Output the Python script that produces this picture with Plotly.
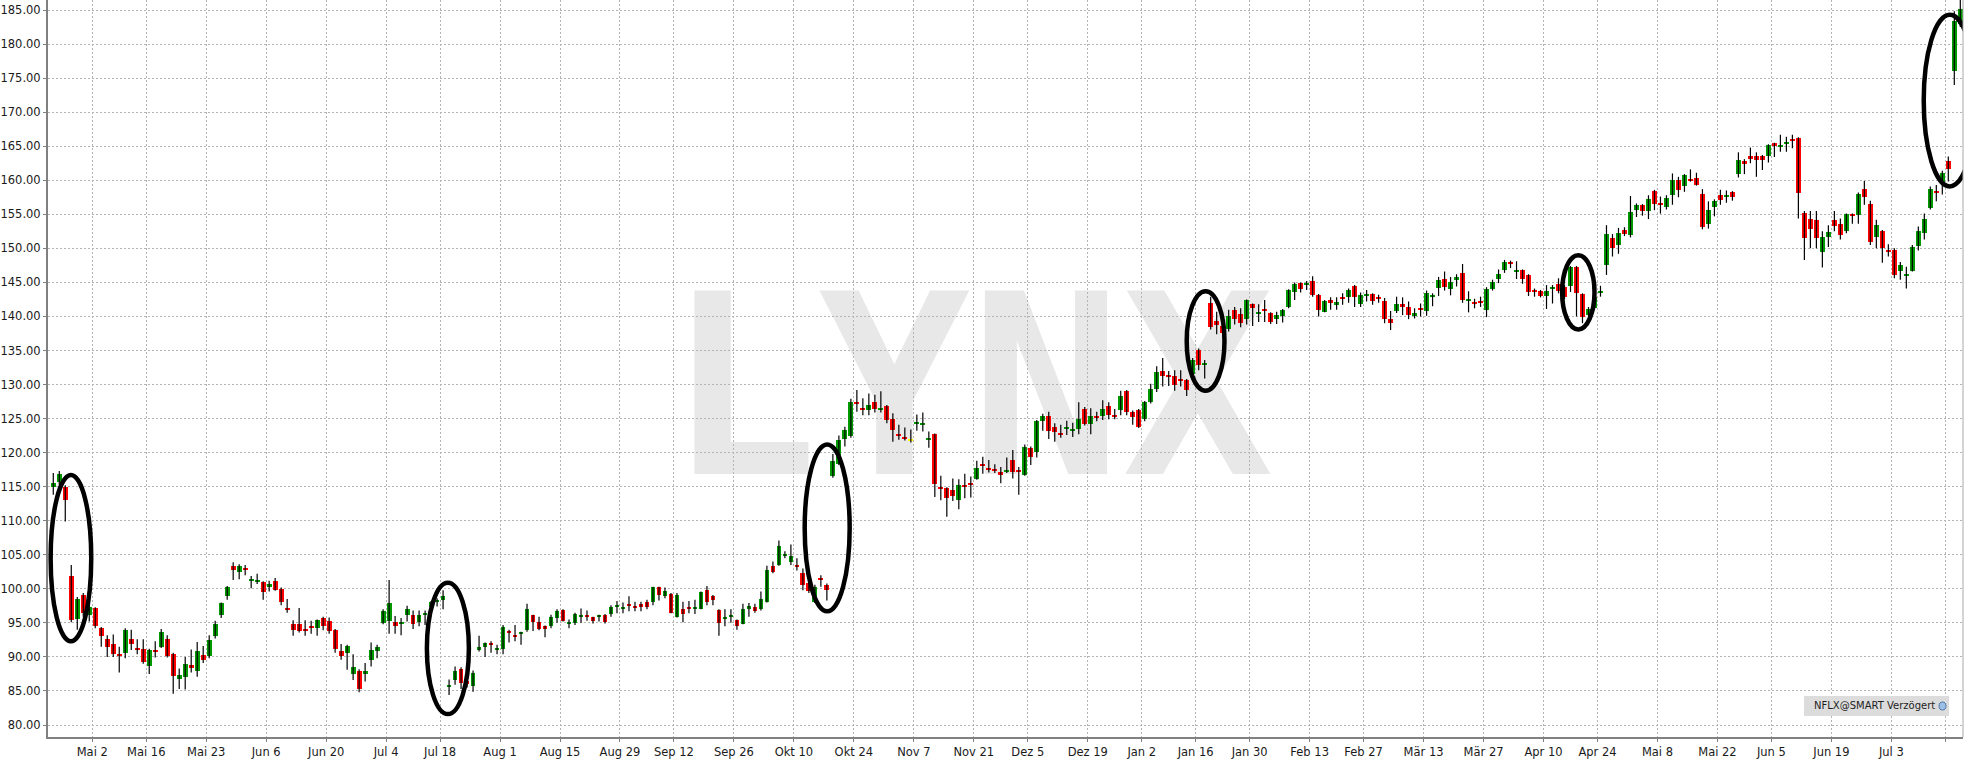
import plotly.graph_objects as go

# ---------------- data ----------------
open_ = [
    115.0, 115.7, 114.9, 101.9, 95.5, 99.1, 96.1, 97.2, 94.2, 92.6,
    91.9, 90.5, 90.6, 92.6, 91.3, 91.2, 88.6, 91.0, 91.5, 92.7,
    90.4, 86.8, 87.0, 88.8, 88.0, 90.3, 90.2, 93.0, 96.1, 99.0,
    103.3, 102.5, 103.0, 101.2, 101.0, 101.0, 100.3, 101.2, 100.0, 97.2,
    94.8, 94.9, 94.1, 94.5, 94.3, 95.7, 95.3, 94.0, 90.8, 90.6,
    87.5, 88.0, 87.5, 89.6, 90.9, 95.0, 95.3, 95.1, 94.8, 96.1,
    96.2, 95.2, 96.2, 97.4, 98.1, 98.4, 85.6, 86.6, 88.3, 86.5,
    85.8, 91.0, 91.5, 92.0, 91.0, 91.2, 93.8, 93.2, 93.3, 93.9,
    96.1, 95.2, 94.5, 94.6, 95.7, 96.9, 94.9, 95.0, 95.9, 96.2,
    95.8, 95.8, 96.2, 96.3, 97.3, 97.1, 97.8, 97.5, 97.8, 98.0,
    98.0, 100.2, 99.0, 99.2, 95.9, 97.1, 97.3, 97.1, 97.1, 99.9,
    98.9, 96.9, 95.6, 95.8, 95.4, 94.9, 97.1, 97.4, 97.0, 98.1,
    103.4, 103.5, 104.8, 104.0, 103.5, 102.3, 100.8, 98.1, 101.6, 100.5,
    116.6, 118.4, 122.0, 122.4, 127.5, 126.6, 126.3, 127.5, 126.2, 126.9,
    124.9, 122.7, 122.3, 121.9, 124.3, 124.1, 121.8, 122.7, 115.0, 114.8,
    114.5, 113.0, 115.2, 115.5, 116.2, 118.3, 117.8, 117.6, 117.1, 117.2,
    118.9, 117.5, 116.7, 120.7, 120.1, 124.6, 125.4, 123.8, 122.9, 123.5,
    123.2, 123.5, 126.4, 124.2, 125.4, 125.4, 126.9, 125.5, 126.3, 129.1,
    126.0, 126.3, 124.9, 127.5, 129.3, 132.0, 131.4, 131.3, 130.8, 130.7,
    131.6, 135.1, 132.9, 142.0, 139.3, 138.6, 138.1, 141.0, 140.4, 139.6,
    141.8, 140.4, 141.1, 140.5, 139.6, 140.0, 141.4, 143.6, 144.9, 144.6,
    145.2, 143.2, 140.7, 142.4, 141.7, 142.9, 142.9, 144.5, 141.9, 143.0,
    143.3, 142.9, 142.2, 139.6, 140.8, 141.9, 141.4, 140.1, 141.2, 140.8,
    142.9, 144.2, 145.5, 144.0, 145.4, 146.4, 142.3, 142.1, 142.3, 140.9,
    144.0, 145.5, 146.8, 148.0, 146.6, 146.8, 146.1, 143.9, 143.8, 143.0,
    144.1, 144.8, 144.3, 144.4, 147.3, 143.3, 140.2, 141.3, 143.5, 147.5,
    151.5, 150.5, 152.7, 151.9, 155.6, 156.3, 155.5, 158.4, 156.7, 156.1,
    157.8, 160.0, 159.1, 160.2, 160.4, 158.0, 153.6, 156.0, 157.8, 157.5,
    158.3, 160.9, 162.8, 163.6, 163.6, 163.5, 163.5, 165.4, 165.0, 165.3,
    166.0, 166.2, 155.2, 154.3, 154.2, 149.4, 151.7, 154.2, 153.6, 152.5,
    155.0, 154.9, 158.7, 156.5, 151.6, 152.6, 149.7, 149.8, 146.7, 146.0,
    146.7, 150.4, 152.3, 155.9, 158.4, 159.7, 162.8, 176.1, 183.0,
]
high = [
    117.0, 117.3, 115.2, 103.5, 98.8, 99.4, 97.6, 97.3, 94.4, 93.2,
    93.3, 91.5, 94.2, 94.0, 92.6, 92.6, 91.2, 92.3, 94.1, 93.2,
    90.6, 88.3, 90.0, 91.1, 92.2, 91.6, 93.2, 95.3, 98.0, 100.4,
    103.9, 103.6, 103.5, 101.9, 102.2, 101.1, 101.2, 101.6, 100.2, 98.5,
    95.4, 97.2, 95.4, 95.3, 95.5, 95.9, 95.8, 94.1, 91.9, 91.8,
    90.4, 88.2, 89.1, 92.1, 91.8, 97.0, 101.3, 96.0, 95.7, 97.5,
    96.8, 96.8, 96.8, 98.2, 98.6, 99.8, 86.7, 88.6, 88.5, 87.0,
    88.0, 93.1, 92.1, 92.3, 91.8, 94.7, 94.0, 94.7, 93.7, 97.8,
    96.2, 95.9, 94.6, 96.2, 97.0, 97.0, 95.5, 96.5, 97.1, 96.8,
    95.9, 96.2, 96.3, 97.6, 98.2, 98.0, 98.9, 98.1, 98.1, 98.4,
    100.3, 100.3, 100.2, 99.4, 99.4, 98.1, 98.2, 98.4, 99.6, 100.4,
    99.1, 97.0, 97.0, 97.0, 95.5, 97.8, 97.9, 97.8, 99.6, 103.4,
    104.0, 107.1, 105.5, 106.5, 104.5, 103.0, 101.1, 100.6, 102.0, 100.8,
    119.8, 122.5, 123.8, 127.9, 129.2, 128.0, 128.7, 128.5, 129.0, 127.0,
    125.8, 124.1, 123.7, 123.4, 125.6, 125.9, 123.1, 122.8, 116.6, 114.9,
    116.2, 116.1, 116.9, 116.5, 118.8, 119.4, 118.9, 118.3, 117.9, 119.3,
    120.4, 117.9, 121.2, 120.9, 124.8, 125.7, 126.0, 124.3, 124.1, 124.7,
    124.4, 127.4, 126.7, 126.5, 126.0, 127.7, 127.4, 126.4, 129.1, 129.2,
    126.2, 126.4, 127.6, 130.1, 132.7, 133.9, 132.0, 132.1, 132.1, 130.8,
    133.9, 135.3, 133.6, 142.9, 140.7, 139.5, 141.0, 141.4, 141.2, 142.5,
    141.9, 141.8, 142.4, 140.6, 140.7, 141.1, 144.0, 145.0, 145.0, 145.2,
    145.9, 143.3, 142.4, 142.8, 142.8, 143.4, 144.1, 144.6, 143.5, 143.9,
    143.4, 143.2, 142.7, 140.8, 142.9, 142.8, 142.2, 141.2, 141.9, 143.8,
    143.4, 145.8, 146.6, 145.8, 146.2, 147.7, 143.7, 142.6, 142.9, 144.3,
    145.4, 146.9, 148.3, 148.2, 148.1, 146.9, 146.2, 144.1, 143.9, 144.6,
    144.6, 145.6, 144.6, 147.4, 147.4, 143.4, 141.4, 143.1, 144.5, 153.4,
    152.1, 153.0, 153.1, 157.7, 156.6, 156.5, 157.8, 158.6, 157.6, 157.8,
    161.0, 160.5, 160.9, 161.6, 161.1, 158.7, 156.9, 157.2, 158.6, 158.5,
    158.4, 164.1, 163.1, 164.8, 164.1, 163.7, 165.3, 165.5, 166.7, 166.4,
    166.7, 166.3, 155.5, 155.5, 155.5, 152.5, 153.4, 155.5, 154.4, 155.1,
    155.1, 158.2, 159.9, 157.0, 154.2, 152.7, 150.6, 150.0, 148.0, 147.3,
    150.5, 153.2, 155.1, 159.1, 159.3, 161.4, 163.5, 184.8, 186.5,
]
low = [
    113.8, 115.3, 109.9, 95.1, 94.0, 95.9, 95.2, 94.2, 91.5, 90.0,
    90.0, 87.7, 89.8, 91.0, 90.4, 89.0, 87.5, 89.9, 91.3, 89.9,
    84.6, 85.3, 85.2, 87.7, 87.1, 89.1, 89.8, 92.7, 95.7, 98.4,
    101.3, 101.4, 102.0, 100.1, 100.7, 98.4, 99.6, 99.7, 97.6, 96.5,
    93.1, 93.6, 93.1, 93.4, 93.1, 93.9, 93.4, 90.6, 89.6, 88.1,
    86.6, 84.8, 86.4, 88.6, 89.8, 94.8, 93.4, 93.4, 93.2, 95.2,
    94.1, 94.5, 94.7, 96.2, 97.4, 97.0, 84.4, 85.9, 85.3, 85.5,
    84.9, 90.8, 90.0, 90.6, 90.4, 90.4, 92.1, 92.3, 91.8, 93.7,
    93.8, 93.9, 92.9, 94.2, 95.0, 95.2, 94.2, 94.7, 95.0, 95.3,
    94.9, 95.2, 94.9, 95.9, 96.4, 96.4, 96.7, 96.7, 96.7, 97.0,
    97.6, 98.3, 98.6, 96.4, 95.8, 95.1, 96.4, 96.3, 97.0, 97.6,
    97.6, 93.1, 94.5, 95.0, 94.0, 94.8, 95.9, 96.5, 96.8, 98.0,
    102.3, 103.4, 104.5, 103.5, 102.7, 99.8, 99.4, 97.9, 100.3, 98.3,
    116.3, 118.2, 120.9, 122.2, 126.0, 125.5, 125.5, 125.9, 125.9, 124.3,
    121.6, 121.9, 121.8, 121.5, 123.2, 123.1, 120.7, 113.5, 113.0, 110.6,
    112.9, 111.7, 113.3, 113.4, 116.0, 116.9, 117.1, 117.0, 115.5, 117.0,
    116.2, 113.8, 116.6, 118.2, 119.3, 123.2, 122.0, 121.6, 122.2, 122.6,
    122.3, 122.7, 124.0, 122.7, 124.6, 124.8, 124.9, 124.9, 125.5, 125.5,
    124.1, 123.6, 124.6, 127.2, 128.9, 129.7, 129.8, 129.1, 129.7, 128.3,
    131.2, 132.1, 130.9, 138.1, 137.4, 137.2, 137.8, 138.8, 138.4, 138.8,
    138.6, 139.2, 139.2, 138.9, 138.9, 139.1, 141.2, 142.4, 143.5, 143.9,
    142.9, 140.0, 140.6, 141.0, 141.0, 141.7, 142.0, 141.4, 141.4, 142.2,
    141.7, 142.0, 139.0, 138.0, 140.5, 140.2, 139.6, 139.7, 140.0, 140.1,
    141.5, 143.0, 143.8, 143.1, 144.4, 142.0, 140.6, 141.2, 141.4, 139.9,
    143.8, 144.9, 146.4, 147.1, 145.5, 144.8, 143.0, 142.9, 142.8, 141.1,
    141.9, 143.4, 142.5, 143.6, 140.0, 139.0, 140.0, 140.9, 142.9, 146.1,
    148.8, 149.2, 151.8, 151.6, 154.6, 154.8, 154.3, 155.6, 155.1, 155.7,
    156.4, 157.5, 158.3, 159.8, 159.2, 152.8, 152.9, 154.7, 156.4, 156.7,
    157.0, 160.4, 160.9, 162.5, 160.5, 161.5, 162.6, 163.4, 164.2, 164.2,
    164.7, 154.4, 148.3, 150.0, 150.0, 147.2, 150.2, 152.5, 151.3, 152.2,
    153.6, 153.6, 156.4, 150.5, 150.0, 147.9, 148.8, 145.6, 145.4, 144.1,
    146.6, 149.7, 151.3, 155.7, 156.9, 157.9, 159.8, 174.0, 182.5,
]
close = [
    115.6, 116.9, 113.0, 95.4, 98.5, 96.4, 97.3, 94.6, 93.1, 91.4,
    90.5, 90.2, 94.0, 91.9, 91.0, 89.3, 91.0, 90.7, 93.7, 90.2,
    87.2, 87.4, 89.0, 88.4, 90.8, 89.6, 92.5, 94.8, 97.9, 100.3,
    102.8, 103.4, 102.7, 101.5, 101.3, 99.6, 100.7, 99.9, 98.0, 96.9,
    93.9, 93.8, 93.8, 94.2, 95.4, 94.5, 93.8, 91.1, 90.1, 91.6,
    88.5, 85.3, 88.0, 91.0, 91.5, 96.8, 97.9, 94.6, 95.2, 97.0,
    94.8, 96.1, 96.5, 98.0, 98.4, 98.9, 85.9, 88.0, 86.1, 86.0,
    87.6, 91.4, 92.0, 91.7, 91.3, 94.4, 93.6, 93.0, 93.6, 97.0,
    95.2, 94.1, 94.1, 95.9, 96.7, 95.3, 95.2, 96.3, 96.2, 95.9,
    95.3, 96.1, 95.1, 97.4, 97.6, 97.4, 97.5, 97.2, 97.4, 97.4,
    100.2, 99.1, 99.7, 96.5, 99.1, 96.3, 97.0, 97.4, 99.5, 98.1,
    98.3, 95.0, 95.8, 96.1, 94.6, 97.0, 97.5, 96.8, 98.5, 102.7,
    102.4, 106.3, 105.1, 104.8, 103.3, 100.6, 99.7, 100.3, 101.3, 99.9,
    118.8, 121.9, 123.3, 127.5, 127.2, 126.3, 127.0, 126.4, 126.6, 124.8,
    123.3, 122.4, 122.0, 121.9, 124.5, 124.4, 122.2, 115.4, 114.7, 113.4,
    113.7, 115.3, 114.9, 115.3, 117.8, 118.0, 117.5, 117.3, 116.7, 117.5,
    117.1, 117.2, 120.9, 119.3, 124.6, 125.4, 123.2, 123.0, 122.6, 123.8,
    123.5, 124.9, 124.2, 125.4, 125.1, 126.4, 125.6, 125.2, 128.3, 125.9,
    125.3, 123.8, 127.4, 129.3, 131.8, 131.2, 131.1, 129.9, 130.5, 129.2,
    133.6, 132.9, 133.1, 138.4, 138.7, 137.5, 140.1, 139.6, 139.0, 142.4,
    141.3, 140.7, 140.8, 139.2, 140.2, 141.0, 143.9, 144.8, 144.1, 144.8,
    143.2, 140.9, 142.3, 142.0, 142.1, 142.6, 143.9, 142.8, 143.1, 143.3,
    142.2, 142.6, 139.6, 139.1, 141.8, 141.4, 140.2, 140.5, 140.9, 143.4,
    143.2, 145.3, 144.3, 145.1, 145.8, 142.4, 142.6, 141.8, 142.0, 144.0,
    145.1, 146.3, 148.0, 147.7, 146.8, 145.5, 143.6, 143.6, 143.0, 143.8,
    144.3, 143.8, 142.9, 147.3, 143.4, 139.9, 141.1, 142.8, 143.7, 152.1,
    150.1, 152.2, 152.1, 155.3, 156.4, 155.5, 157.2, 156.5, 156.4, 157.4,
    160.1, 158.5, 160.8, 159.9, 159.3, 153.2, 155.6, 157.0, 157.1, 157.8,
    157.6, 163.0, 162.4, 163.1, 163.0, 163.0, 165.2, 165.0, 165.2, 165.6,
    165.8, 158.1, 151.5, 152.8, 151.5, 151.6, 152.4, 153.3, 152.0, 155.0,
    154.8, 158.0, 157.5, 151.0, 153.4, 150.0, 149.4, 146.1, 147.5, 146.2,
    150.2, 152.6, 154.3, 158.7, 158.2, 161.1, 161.6, 183.4, 185.2,
]

# x-axis: bar index of each labelled session and its label
tick_bars = [7, 16, 26, 36, 46, 56, 65, 75, 85, 95, 104, 114, 124, 134, 144,
             154, 163, 173, 182, 191, 200, 210, 219, 229, 239, 249, 258, 268,
             278, 287, 297, 307, 316]
tick_labels = ["Mai 2", "Mai 16", "Mai 23", "Jun 6", "Jun 20", "Jul 4", "Jul 18",
               "Aug 1", "Aug 15", "Aug 29", "Sep 12", "Sep 26", "Okt 10", "Okt 24",
               "Nov 7", "Nov 21", "Dez 5", "Dez 19", "Jan 2", "Jan 16", "Jan 30",
               "Feb 13", "Feb 27", "Mär 13", "Mär 27", "Apr 10", "Apr 24", "Mai 8",
               "Mai 22", "Jun 5", "Jun 19", "Jul 3", ""]
y_ticks = [80, 85, 90, 95, 100, 105, 110, 115, 120, 125, 130, 135, 140, 145,
           150, 155, 160, 165, 170, 175, 180, 185]

# hand-drawn highlight ellipses: (bar from, bar to, price low, price high)
highlights = [
    (-0.44, 6.33, 92.3, 116.7),
    (62.3, 69.3, 81.6, 100.9),
    (125.3, 132.8, 96.7, 121.2),
    (189.0, 195.3, 129.1, 143.7),
    (251.6, 257.0, 138.1, 149.0),
    (311.9, 320.6, 159.1, 184.3),
]
watermark = "LYNX"
watermark_x = 152.9
watermark_y = 132.3
info_label = "NFLX@SMART Verzögert"

# ---------------- build figure ----------------
GREEN, RED, YELLOW = "#009a00", "#ff0000", "#ffff00"
n = len(close)
idx = list(range(n))

wick_x, wick_y = [], []
for i in idx:
    wick_x += [i, i, None]
    wick_y += [low[i], high[i], None]

MIN_BODY = 0.3
bases, heights, colors = [], [], []
for i in idx:
    o, c = open_[i], close[i]
    h = abs(c - o)
    hh = max(h, MIN_BODY)
    bases.append(min(o, c) - (hh - h) / 2)
    heights.append(hh)
    colors.append(GREEN if c > o else (RED if c < o else YELLOW))

fig = go.Figure()
fig.add_trace(go.Scatter(x=wick_x, y=wick_y, mode="lines",
                         line=dict(color="#000000", width=1.2),
                         hoverinfo="skip", showlegend=False))
fig.add_trace(go.Bar(x=idx, y=heights, base=bases, width=0.8,
                     marker=dict(color=colors, line=dict(width=0)),
                     showlegend=False,
                     customdata=list(zip(open_, high, low, close)),
                     hovertemplate="O %{customdata[0]}<br>H %{customdata[1]}"
                                   "<br>L %{customdata[2]}<br>C %{customdata[3]}<extra></extra>"))

shapes = []
# watermark (drawn below the grid)
shapes.append(dict(type="rect", xref="x", yref="y",
                   x0=watermark_x - 45, x1=watermark_x + 45,
                   y0=watermark_y - 5, y1=watermark_y + 5, layer="below",
                   line=dict(width=0), fillcolor="rgba(0,0,0,0)",
                   label=dict(text="<b>" + watermark + "</b>",
                              textposition="middle center",
                              font=dict(family="DejaVu Sans Mono",
                                        size=252, color="#e8e8e8"))))
for (x0, x1, y0, y1) in highlights:
    shapes.append(dict(type="circle", xref="x", yref="y", x0=x0, x1=x1,
                       y0=y0, y1=y1, layer="above",
                       line=dict(color="#000000", width=4.5)))
# right border
shapes.append(dict(type="line", xref="paper", yref="paper", x0=1, x1=1, y0=0, y1=1,
                   line=dict(color="#a8a8a8", width=1)))
# info box
shapes.append(dict(type="rect", xref="paper", yref="paper", x0=0.9170, x1=0.9927,
                   y0=0.0285, y1=0.0556, line=dict(width=0), fillcolor="#dcdcdc",
                   layer="above"))
shapes.append(dict(type="circle", xref="paper", yref="paper", x0=0.9875, x1=0.9911,
                   y0=0.0366, y1=0.0475, line=dict(color="#4f78a8", width=1),
                   fillcolor="#9cc0e6", layer="above"))

fig.update_layout(
    width=1967, height=766,
    margin=dict(l=48, r=4, t=0, b=29, pad=0),
    paper_bgcolor="#ffffff", plot_bgcolor="#ffffff",
    showlegend=False, bargap=0, hovermode="closest",
    shapes=shapes,
    annotations=[dict(xref="paper", yref="paper", x=0.9213, y=0.0421,
                      xanchor="left", yanchor="middle", showarrow=False,
                      text=info_label,
                      font=dict(family="DejaVu Sans", size=10, color="#1e1e1e"))],
    font=dict(family="DejaVu Sans", size=12, color="#1a1a1a"),
)
grid = dict(showgrid=True, gridcolor="#b4b4b4", gridwidth=1, griddash="2px,2px",
            zeroline=False, showline=True, linecolor="#808080", linewidth=2,
            ticks="outside", ticklen=3, tickcolor="#808080", tickwidth=1,
            tickfont=dict(family="DejaVu Sans", size=11.5, color="#1a1a1a"))
fig.update_xaxes(range=[-0.88, 318.45], tickmode="array",
                 tickvals=[b - 0.5 for b in tick_bars], ticktext=tick_labels,
                 **grid)
fig.update_yaxes(range=[78.24, 186.47], tickmode="array", tickvals=y_ticks,
                 ticktext=[f"{v:.2f}" for v in y_ticks], **grid)

# remove the default page margin so the 1967x766 figure fills the window exactly
page_fix = ("document.documentElement.style.margin='0';"
            "document.body.style.margin='0';"
            "document.body.style.overflow='hidden';"
            "document.documentElement.style.overflow='hidden';")
fig.write_html("out.html", post_script=page_fix,
               config={"displayModeBar": False, "staticPlot": False})
